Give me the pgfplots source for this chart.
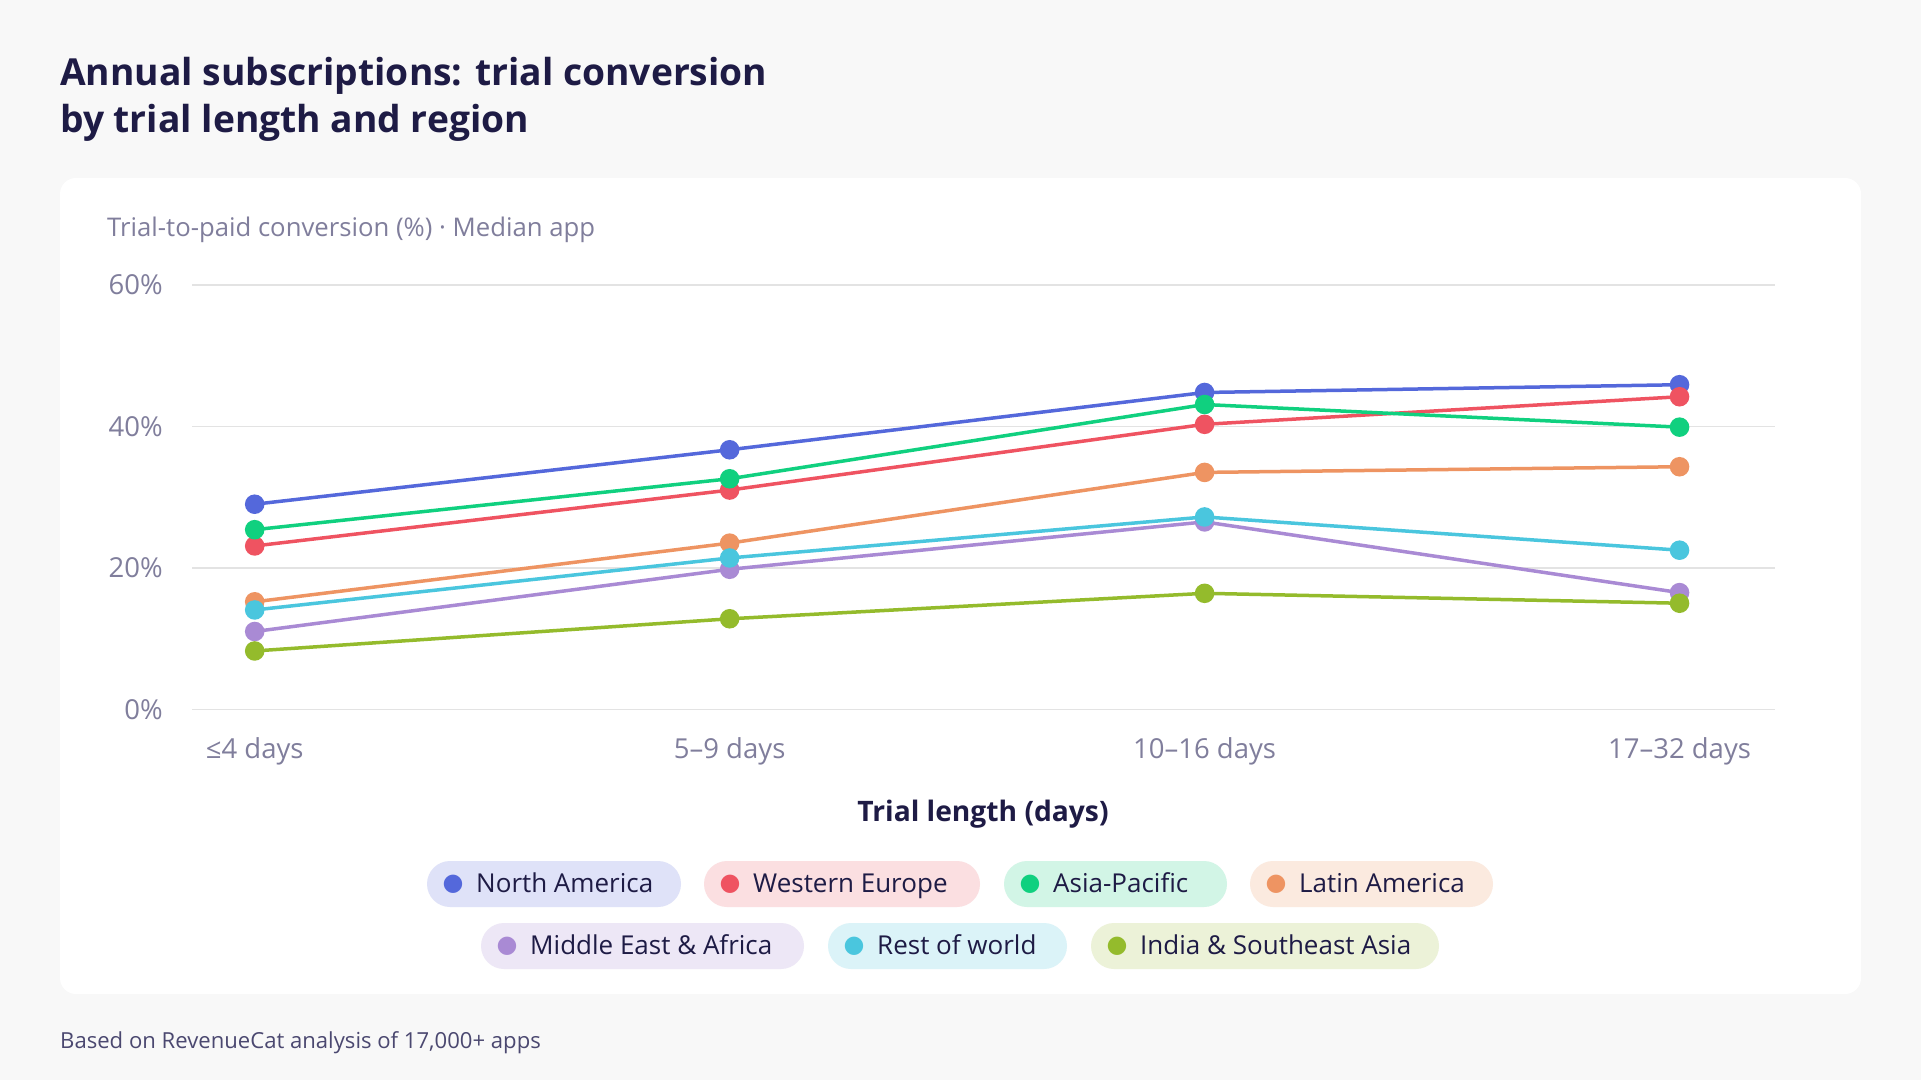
\documentclass[border=0pt]{standalone}
\usepackage{pgfplots}
\pgfplotsset{compat=1.18}
\usepackage{fontspec}
\setmainfont{Open Sans}
\newfontfamily\dejavu{DejaVu Sans}
\definecolor{bgc}{HTML}{F8F8F8}
\definecolor{titlec}{HTML}{1E1B45}
\definecolor{tickc}{HTML}{807E9C}
\definecolor{footc}{HTML}{4B4870}
\definecolor{gridc}{HTML}{E3E3E3}
\definecolor{na}{HTML}{5468DB}
\definecolor{we}{HTML}{EF5361}
\definecolor{ap}{HTML}{10D07F}
\definecolor{la}{HTML}{EE9462}
\definecolor{mea}{HTML}{A98AD4}
\definecolor{row}{HTML}{4AC6DE}
\definecolor{ind}{HTML}{94BB2C}
\definecolor{nal}{HTML}{DFE2F8}
\definecolor{wel}{HTML}{FBDFE1}
\definecolor{apl}{HTML}{D2F5E6}
\definecolor{lal}{HTML}{FBEADF}
\definecolor{meal}{HTML}{EDE7F6}
\definecolor{rowl}{HTML}{DBF3F8}
\definecolor{indl}{HTML}{ECF2D8}
\newcommand{\pill}[5]{%
  \fill[#4] (#1,#3-23) [rounded corners=23pt] rectangle (#2,#3+23);
  \node[anchor=center, inner sep=0pt, text=#5, font=\dejavu\fontsize{24}{24}\selectfont] at (#1+26,#3) {●};
}
\newcommand{\pilltext}[3]{%
  \node[anchor=base west, inner sep=0pt, text=titlec, font=\fontsize{26}{30}\selectfont] at (#1+49,#2-8.6) {#3};
}
\begin{document}
\begin{tikzpicture}[x=1pt,y=1pt]
\fill[bgc] (0,0) rectangle (1921,1080);
\fill[white, rounded corners=16pt] (60,86) rectangle (1861,902);
\node[anchor=base west, inner sep=0pt, text=titlec, font=\bfseries\fontsize{37.2}{47}\selectfont] at (60,994) {Annual subscriptions: trial conversion};
\node[anchor=base west, inner sep=0pt, text=titlec, font=\bfseries\fontsize{37.2}{47}\selectfont] at (60,947) {by trial length and region};
\node[anchor=base west, inner sep=0pt, text=tickc, font=\fontsize{25.7}{30}\selectfont] at (107,843) {Trial-to-paid conversion (\%) · Median app};
\node[anchor=base west, inner sep=0pt, text=footc, font=\fontsize{22.1}{26}\selectfont] at (60,32) {Based on RevenueCat analysis of 17,000+ apps};
\node[anchor=base, inner sep=0pt, text=titlec, font=\bfseries\fontsize{28.2}{32}\selectfont] at (983,258.5) {Trial length (days)};
\begin{axis}[
  at={(192pt,370.7pt)}, anchor=south west,
  scale only axis, width=1583pt, height=424.3pt,
  xmin=-0.132, xmax=3.201, ymin=0, ymax=60,
  xtick={0,1,2,3},
  xticklabels={≤4 days,5–9 days,10–16 days,17–32 days},
  ytick={0,20,40,60},
  yticklabel={\pgfmathprintnumber{\tick}\%},
  /pgf/number format/assume math mode=true,
  ymajorgrids, grid style={gridc, line width=1.6pt},
  axis line style={draw=none},
  major tick length=0pt,
  tick label style={text=tickc, font=\fontsize{27.5}{30}\selectfont, inner sep=0pt},
  yticklabel style={anchor=east, xshift=-29pt},
  xticklabel style={anchor=base, yshift=-48.7pt},
  every axis plot/.append style={line width=3.5pt, mark=*, mark size=8pt},
  clip=false,
]
\addplot[na, mark options={fill=na, draw=none}] coordinates {(0,29.0) (1,36.7) (2,44.8) (3,45.9)};
\addplot[we, mark options={fill=we, draw=none}] coordinates {(0,23.1) (1,31.0) (2,40.3) (3,44.2)};
\addplot[ap, mark options={fill=ap, draw=none}] coordinates {(0,25.4) (1,32.6) (2,43.1) (3,39.9)};
\addplot[la, mark options={fill=la, draw=none}] coordinates {(0,15.2) (1,23.5) (2,33.5) (3,34.3)};
\addplot[mea, mark options={fill=mea, draw=none}] coordinates {(0,11.0) (1,19.8) (2,26.5) (3,16.5)};
\addplot[row, mark options={fill=row, draw=none}] coordinates {(0,14.05) (1,21.4) (2,27.2) (3,22.5)};
\addplot[ind, mark options={fill=ind, draw=none}] coordinates {(0,8.25) (1,12.8) (2,16.4) (3,15.0)};
\end{axis}
\pill{427}{681}{196}{nal}{na}\pilltext{427}{196}{North America}
\pill{704}{980}{196}{wel}{we}\pilltext{704}{196}{Western Europe}
\pill{1004}{1227}{196}{apl}{ap}\pilltext{1004}{196}{Asia-Pacific}
\pill{1250}{1493}{196}{lal}{la}\pilltext{1250}{196}{Latin America}
\pill{481}{804}{134}{meal}{mea}\pilltext{481}{134}{Middle East \& Africa}
\pill{828}{1067}{134}{rowl}{row}\pilltext{828}{134}{Rest of world}
\pill{1091}{1439}{134}{indl}{ind}\pilltext{1091}{134}{India \& Southeast Asia}
\end{tikzpicture}
\end{document}
